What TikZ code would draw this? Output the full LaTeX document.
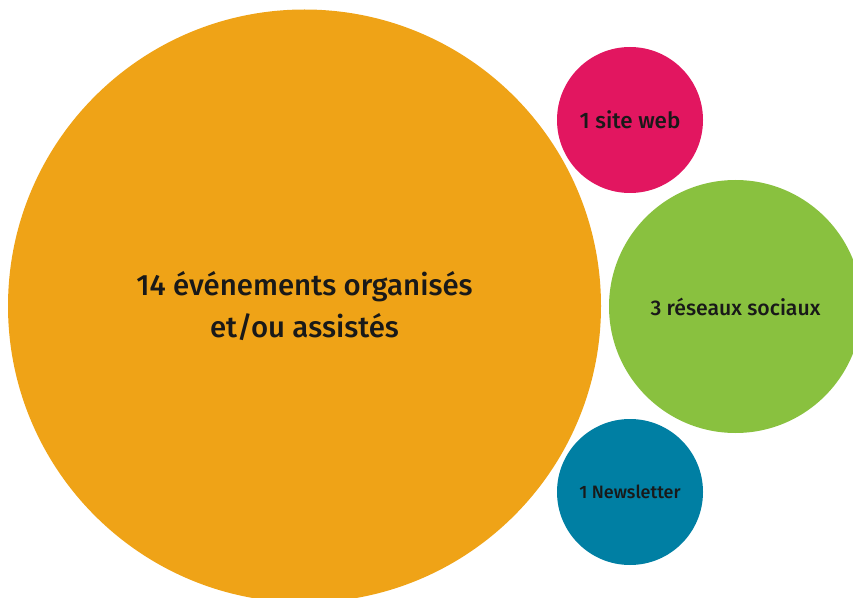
\documentclass[tikz,border=0pt]{standalone}
\usepackage{fontspec}
\setmainfont{Fira Sans}[UprightFont={* Medium}]
\newlength{\du}
\setlength{\du}{1bp}
\definecolor{evtcolor}{RGB}{239,163,23}
\definecolor{webcolor}{RGB}{226,22,96}
\definecolor{rscolor}{RGB}{137,193,63}
\definecolor{nlcolor}{RGB}{0,127,163}
\tikzset{
  bulle/.style={circle, inner sep=0pt, draw=none, align=center, text=black!90},
}
\begin{document}
\begin{tikzpicture}
\pgftransformyscale{-1.000000}
\useasboundingbox (0\du,0\du) rectangle (853\du,598\du);
% grande bulle
\node[bulle, fill=evtcolor, minimum size=593\du, font=\fontsize{29.5}{42}\selectfont] (evenements) at (304.5\du,306\du) {14 événements organisés\\et/ou assistés};
% petites bulles
\node[bulle, fill=webcolor, minimum size=146\du, font=\fontsize{22.5}{26}\selectfont] (siteweb) at (630\du,120\du) {1 site web};
\node[bulle, fill=rscolor, minimum size=253\du, font=\fontsize{21.3}{26}\selectfont] (reseaux) at (735.5\du,306.5\du) {3 réseaux sociaux};
\node[bulle, fill=nlcolor, minimum size=146\du, font=\fontsize{18}{22}\selectfont] (newsletter) at (630\du,492\du) {1 Newsletter};
\end{tikzpicture}
\end{document}
